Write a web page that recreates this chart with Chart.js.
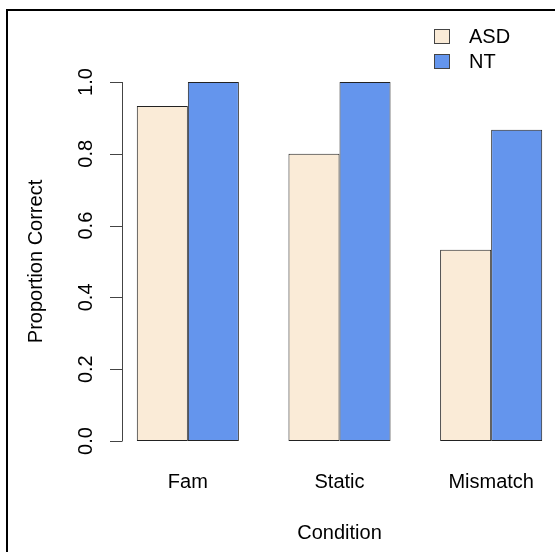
<!DOCTYPE html>
<html>
<head>
<meta charset="utf-8">
<script src="https://cdn.jsdelivr.net/npm/chart.js@4"></script>
<style>
  html, body { margin: 0; padding: 0; background: #fff; overflow: hidden; }
  #wrap { position: relative; width: 555px; height: 552px; overflow: hidden; }
  #frame { position: absolute; left: 6px; top: 9px; width: 600px; height: 600px;
           border-top: 2px solid #000; border-left: 2px solid #000; }
  canvas { position: absolute; left: 0; top: 0; }
</style>
</head>
<body>
<div id="wrap">
  <div id="frame"></div>
  <canvas id="myChart" width="610" height="552"></canvas>
</div>
<script>
var categories = ["Fam", "Static", "Mismatch"];
var asdValues = [0.933, 0.8, 0.533];
var ntValues = [1.0, 1.0, 0.867];
var yTicks = [0, 0.2, 0.4, 0.6, 0.8, 1.0];
var seriesNames = ["ASD", "NT"];
var seriesColors = ["#FAEBD7", "#6495ED"];

var FONT = '20px "Liberation Sans", Arial, Helvetica, sans-serif';

// draws the R-style axes, labels and legend using the chart's own scales
var rStyle = {
    id: 'rStyle',
    afterDraw: function (chart) {
        var c = chart.ctx;
        var x = chart.scales.x;
        var y = chart.scales.y;
        c.save();
        c.font = FONT;
        c.fillStyle = '#000';

        // y axis line and ticks
        var ax = 122;
        c.strokeStyle = '#444';
        c.lineWidth = 1;
        c.beginPath();
        c.moveTo(ax + 0.5, y.getPixelForValue(0));
        c.lineTo(ax + 0.5, y.getPixelForValue(1));
        yTicks.forEach(function (t) {
            var py = Math.round(y.getPixelForValue(t)) + 0.5;
            c.moveTo(ax + 0.5, py);
            c.lineTo(ax - 12, py);
        });
        c.stroke();

        // rotated tick labels
        yTicks.forEach(function (t) {
            c.save();
            c.translate(92, y.getPixelForValue(t));
            c.rotate(-Math.PI / 2);
            c.textAlign = 'center';
            c.textBaseline = 'alphabetic';
            c.fillText(t.toFixed(1), 0, 0);
            c.restore();
        });

        // y title
        c.save();
        c.translate(42, (y.top + y.bottom) / 2);
        c.rotate(-Math.PI / 2);
        c.textAlign = 'center';
        c.fillText('Proportion Correct', 0, 0);
        c.restore();

        // category labels and x title
        c.textAlign = 'center';
        categories.forEach(function (cat, i) {
            c.fillText(cat, x.getPixelForValue(i), 488);
        });
        c.fillText('Condition', (x.getPixelForValue(0) + x.getPixelForValue(2)) / 2, 539);

        // legend
        c.textAlign = 'left';
        seriesNames.forEach(function (name, i) {
            var by = 29.5 + i * 25;
            c.fillStyle = seriesColors[i];
            c.fillRect(434.5, by, 15, 14);
            c.strokeStyle = '#444';
            c.strokeRect(434.5, by, 15, 14);
            c.fillStyle = '#000';
            c.fillText(name, 469, 43 + i * 25);
        });
        c.restore();
    }
};

var ctx = document.getElementById('myChart').getContext('2d');
var chart = new Chart(ctx, {
    type: 'bar',
    data: {
        labels: categories,
        datasets: [{
            label: seriesNames[0],
            data: asdValues,
            backgroundColor: seriesColors[0],
            borderColor: '#222',
            borderWidth: 1,
            borderSkipped: false,
            categoryPercentage: 0.673,
            barPercentage: 1.0
        }, {
            label: seriesNames[1],
            data: ntValues,
            backgroundColor: seriesColors[1],
            borderColor: '#222',
            borderWidth: 1,
            borderSkipped: false,
            categoryPercentage: 0.673,
            barPercentage: 1.0
        }]
    },
    options: {
        responsive: false,
        animation: false,
        devicePixelRatio: 1,
        layout: {
            padding: { top: 82, bottom: 111, left: 112, right: 43 }
        },
        scales: {
            x: { display: false, offset: true },
            y: { display: false, min: 0, max: 1 }
        },
        plugins: {
            legend: { display: false },
            tooltip: { enabled: false }
        }
    },
    plugins: [rStyle]
});
</script>
</body>
</html>
